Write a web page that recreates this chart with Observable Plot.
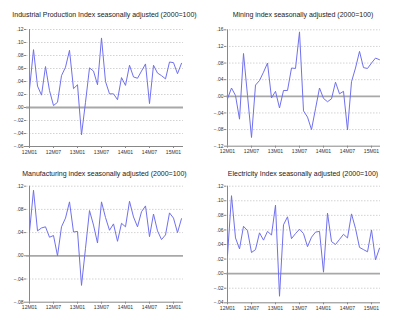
<!DOCTYPE html>
<html>
<head>
<meta charset="utf-8">
<script src="https://cdn.jsdelivr.net/npm/d3@7"></script>
<script src="https://cdn.jsdelivr.net/npm/@observablehq/plot@0.6"></script>
<style>
  html, body { margin: 0; padding: 0; background: #fff; }
  #wrap { position: relative; width: 400px; height: 325px; overflow: hidden; font-family: Arial, "Liberation Sans", sans-serif; }
  .panel { position: absolute; }
  .title { position: absolute; width: 200px; text-align: center; font-size: 7px; line-height: 8px; color: #222; white-space: nowrap; }
</style>
</head>
<body>
<div id="wrap"></div>
<script>
const months = ["12M01","12M02","12M03","12M04","12M05","12M06","12M07","12M08","12M09","12M10","12M11","12M12",
  "13M01","13M02","13M03","13M04","13M05","13M06","13M07","13M08","13M09","13M10","13M11","13M12",
  "14M01","14M02","14M03","14M04","14M05","14M06","14M07","14M08","14M09","14M10","14M11","14M12",
  "15M01","15M02","15M03"];
const tickMonths = ["12M01","12M07","13M01","13M07","14M01","14M07","15M01"];

const industrial = [0.028, 0.089, 0.033, 0.019, 0.063, 0.026, 0.003, 0.008, 0.049, 0.062, 0.088, 0.029, 0.035, -0.042, 0.008, 0.061, 0.056, 0.035, 0.107, 0.040, 0.021, 0.021, 0.012, 0.046, 0.034, 0.065, 0.047, 0.045, 0.056, 0.067, 0.006, 0.065, 0.053, 0.049, 0.044, 0.070, 0.069, 0.052, 0.068];
const mining = [-0.006, 0.020, 0.002, -0.055, 0.103, 0.002, -0.099, 0.027, 0.038, 0.058, 0.080, -0.004, 0.012, -0.028, 0.014, 0.014, 0.068, 0.067, 0.155, -0.035, -0.050, -0.080, -0.030, 0.020, -0.005, -0.013, -0.006, 0.034, 0.006, 0.012, -0.081, 0.035, 0.068, 0.108, 0.069, 0.067, 0.080, 0.092, 0.088];
const manufacturing = [0.041, 0.113, 0.043, 0.048, 0.050, 0.032, 0.035, 0.000, 0.050, 0.065, 0.093, 0.041, 0.042, -0.051, 0.013, 0.078, 0.053, 0.022, 0.093, 0.066, 0.044, 0.055, 0.025, 0.056, 0.050, 0.094, 0.067, 0.050, 0.076, 0.086, 0.033, 0.072, 0.043, 0.028, 0.036, 0.074, 0.065, 0.040, 0.064];
const electricity = [0.025, 0.107, 0.049, 0.034, 0.065, 0.059, 0.029, 0.033, 0.056, 0.046, 0.058, 0.053, 0.094, -0.031, 0.067, 0.078, 0.048, 0.055, 0.061, 0.055, 0.037, 0.050, 0.057, 0.058, 0.002, 0.083, 0.044, 0.040, 0.047, 0.054, 0.049, 0.082, 0.062, 0.036, 0.033, 0.030, 0.060, 0.019, 0.035];

const titles = [
  "Industrial Production Index seasonally adjusted (2000=100)",
  "Mining index seasonally adjusted (2000=100)",
  "Manufacturing index seasonally adjusted (2000=100)",
  "Electricity Index seasonally adjusted (2000=100)"
];
const yTicks1 = [-0.06, -0.04, -0.02, 0, 0.02, 0.04, 0.06, 0.08, 0.10, 0.12];
const yTicks2 = [-0.12, -0.08, -0.04, 0, 0.04, 0.08, 0.12, 0.16];
const yTicks3 = [-0.08, -0.04, 0, 0.04, 0.08, 0.12];
const yTicks4 = [-0.04, -0.02, 0, 0.02, 0.04, 0.06, 0.08, 0.10, 0.12];

const panels = [
  {values: industrial, ticks: yTicks1, title: titles[0], left: 0, top: 0, height: 160, mt: 29, mb: 14, mr: 17, ty: 11},
  {values: mining, ticks: yTicks2, title: titles[1], left: 200, top: 0, height: 160, mt: 29.3, mb: 14.3, mr: 20, ty: 11},
  {values: manufacturing, ticks: yTicks3, title: titles[2], left: 0, top: 160, height: 165, mt: 25.7, mb: 23.3, mr: 17, ty: 9.5},
  {values: electricity, ticks: yTicks4, title: titles[3], left: 200, top: 160, height: 165, mt: 25.7, mb: 22.7, mr: 20, ty: 9.5}
];

const fmt = d => { const s = d3.format(".2f")(d); return s.replace("0.", "."); };
const wrap = document.getElementById("wrap");

panels.forEach(p => {
  const data = months.map((m, i) => ({month: m, value: p.values[i]}));
  const yMin = p.ticks[0], yMax = p.ticks[p.ticks.length - 1];
  const grid = p.ticks.filter(t => t !== 0 && t !== yMin);
  const chart = Plot.plot({
    width: 200,
    height: p.height,
    marginLeft: 26,
    marginRight: p.mr,
    marginTop: p.mt,
    marginBottom: p.mb,
    style: {fontFamily: "Arial, 'Liberation Sans', sans-serif", background: "transparent"},
    x: {type: "point", domain: months, padding: 0, label: null},
    y: {domain: [yMin, yMax], label: null},
    marks: [
      Plot.ruleY(grid, {stroke: "#c8c8c8", strokeWidth: 0.8, strokeDasharray: "1.5,1.5"}),
      Plot.ruleY([0], {stroke: "#a8a8a8", strokeWidth: 1.8}),
      Plot.ruleY([yMin], {stroke: "#888"}),
      Plot.ruleX([months[0]], {stroke: "#888"}),
      Plot.axisY({ticks: p.ticks, tickFormat: fmt, tickSize: 2, tickPadding: 1, fontSize: 5, stroke: "#888", fill: "#333", label: null}),
      Plot.axisX({ticks: tickMonths, tickSize: 2, tickPadding: 1.5, fontSize: 5, stroke: "#888", fill: "#333", label: null}),
      Plot.lineY(data, {x: "month", y: "value", stroke: "#7070ee", strokeWidth: 1})
    ]
  });
  chart.classList.add("panel");
  chart.style.left = p.left + "px";
  chart.style.top = p.top + "px";
  wrap.appendChild(chart);
  const t = document.createElement("div");
  t.className = "title";
  t.textContent = p.title;
  const plotCenter = 26 + (200 - 26 - p.mr) / 2;
  t.style.left = (p.left + plotCenter - 100) + "px";
  t.style.top = (p.top + p.ty) + "px";
  wrap.appendChild(t);
});
</script>
</body>
</html>
